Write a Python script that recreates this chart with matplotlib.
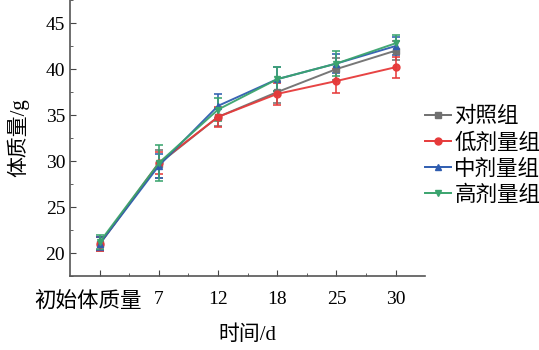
import numpy as np
import matplotlib.pyplot as plt
import matplotlib.transforms as mtransforms
from matplotlib.lines import Line2D

plt.rcParams['font.family'] = ['Liberation Serif', 'Noto Sans CJK SC']

# 称重时间点
days = ['初始体质量', '7', '12', '18', '25', '30']

# 各组平均体质量 (g) 与标准差
control = [21.0, 29.7, 34.8, 37.5, 40.0, 42.0]
control_sd = [0.8, 1.5, 1.0, 1.2, 1.2, 1.0]
low = [21.0, 29.8, 34.8, 37.3, 38.7, 40.2]
low_sd = [0.8, 1.2, 1.1, 1.2, 1.3, 1.15]
mid = [21.0, 29.5, 36.0, 38.9, 40.6, 42.5]
mid_sd = [0.7, 1.3, 1.3, 1.3, 1.0, 1.0]
high = [21.2, 29.8, 35.6, 38.9, 40.6, 42.8]
high_sd = [0.8, 2.0, 1.2, 1.3, 1.4, 0.9]

groups = [
    ('对照组', control, control_sd, '#707070', 's'),
    ('低剂量组', low, low_sd, '#e63a3a', 'o'),
    ('中剂量组', mid, mid_sd, '#2f5db0', '^'),
    ('高剂量组', high, high_sd, '#3aa46e', 'v'),
]

fig = plt.figure(figsize=(5.39, 3.5), dpi=100)
ax = fig.add_axes([0.13, 0.211, 0.659, 0.789])

x = np.arange(len(days))
handles = []
for name, y, sd, c, m in groups:
    ax.errorbar(x, y, yerr=sd, color=c, marker=m, markersize=5, lw=1.4,
                elinewidth=1.2, capsize=3, capthick=1.2, ecolor=c, alpha=0.95)
    handles.append(Line2D([], [], color=c, marker=m, markersize=5, lw=1.4, label=name))

ax.set_xlim(-0.5, 5.5)
ax.set_ylim(17.5, 47.5)
ax.set_xticks(x)
ax.set_xticklabels(days)
ax.set_xticks(x[:-1] + 0.5, minor=True)
ax.set_yticks([20, 25, 30, 35, 40, 45])
ax.set_yticks(np.arange(17.5, 47.6, 5), minor=True)
ax.tick_params(axis='both', which='major', direction='in', length=4, labelsize=14, color='#444444')
ax.tick_params(axis='both', which='minor', direction='in', length=2, color='#444444')
ax.tick_params(axis='x', pad=11)

# 第一个刻度标签较长，向左移一点避免与"7"重叠
first = ax.get_xticklabels()[0]
first.set_fontsize(15.5)
first.set_transform(first.get_transform() +
                    mtransforms.ScaledTranslation(-0.12, 0, fig.dpi_scale_trans))

for s in ['top', 'right']:
    ax.spines[s].set_visible(False)
for s in ['left', 'bottom']:
    ax.spines[s].set_color('#555555')
    ax.spines[s].set_linewidth(1.2)

ax.set_xlabel('时间/d', fontsize=15, labelpad=10)
ax.set_ylabel('体质量/g', fontsize=15, labelpad=12)

ax.legend(handles=handles, loc='upper left', bbox_to_anchor=(1.0, 0.612), frameon=False,
          fontsize=15.5, handlelength=1.2, handletextpad=0.15, labelspacing=0.27,
          borderaxespad=0, borderpad=0)

fig.savefig('out.png', dpi=100)
